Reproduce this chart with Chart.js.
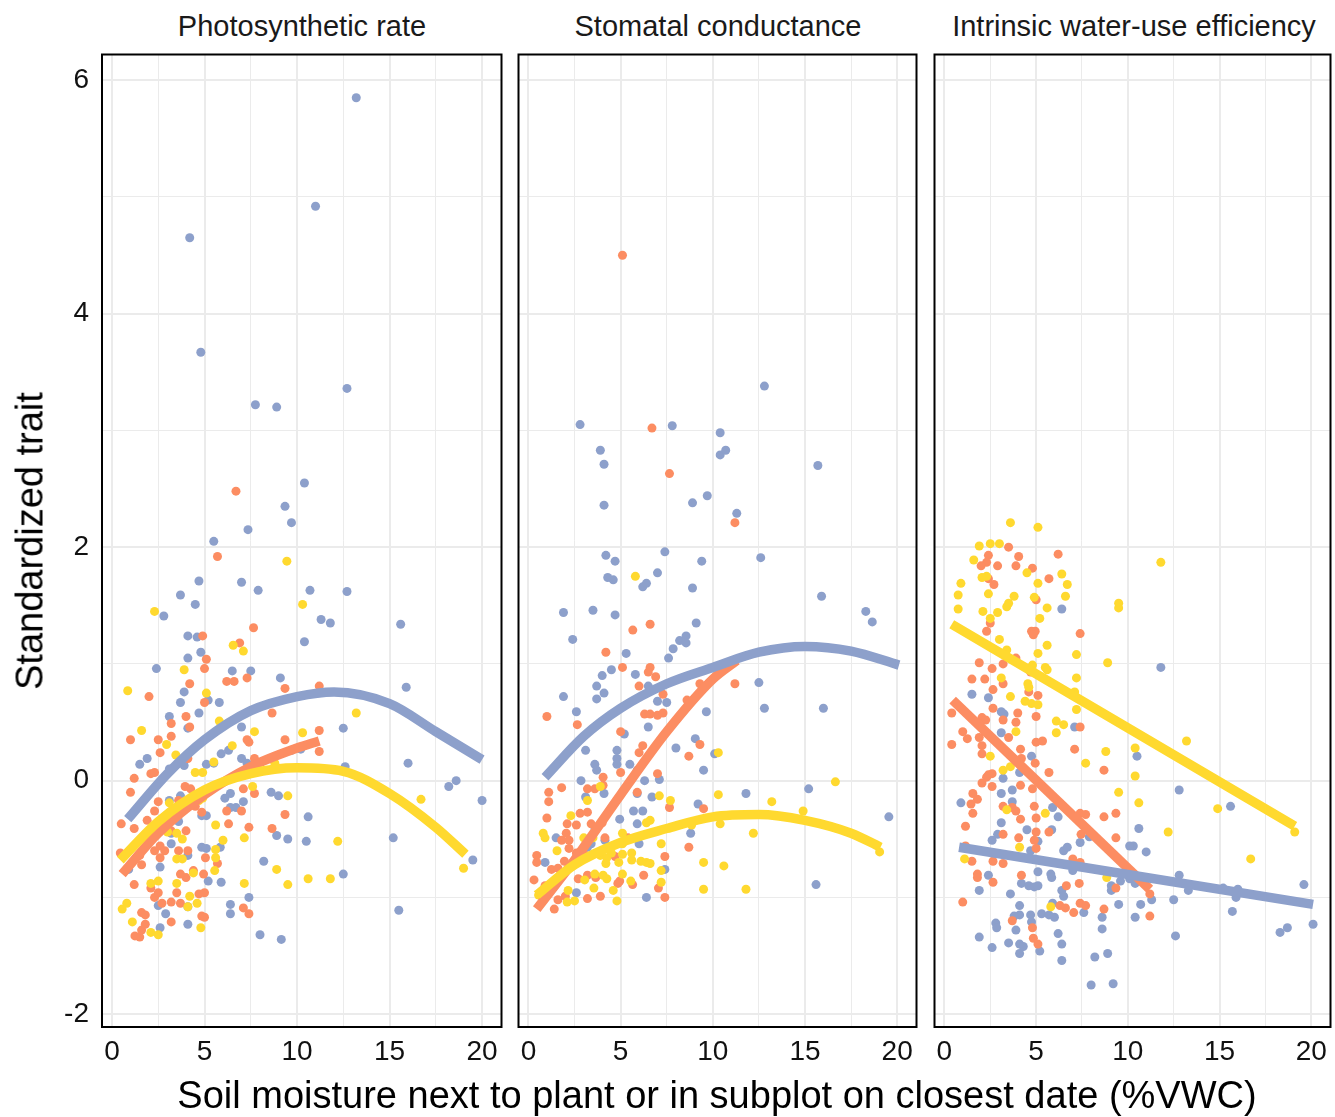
<!DOCTYPE html>
<html>
<head>
<meta charset="utf-8">
<script src="https://cdn.jsdelivr.net/npm/chart.js@4.4.1/dist/chart.umd.min.js"></script>
<style>
  html, body { margin: 0; padding: 0; background: #fff; overflow: hidden; }
  #wrap { position: relative; width: 1335px; height: 1117px; font-family: "Liberation Sans", Arial, sans-serif; }
  canvas { position: absolute; }
  .strip { position: absolute; top: 10px; width: 400px; text-align: center; font-size: 29px; line-height: 32px; color: #1a1a1a; }
  #ylab { position: absolute; left: 30px; top: 541px; transform: translate(-50%, -50%) rotate(-90deg); font-size: 38px; white-space: nowrap; color: #000; }
  #xlab { position: absolute; left: 717px; top: 1095px; transform: translate(-50%, -50%); font-size: 38px; white-space: nowrap; color: #000; }
</style>
</head>
<body>
<div id="wrap">
  <canvas id="c1" width="504" height="1040" style="left:2px;top:50px"></canvas>
  <canvas id="c2" width="407" height="1040" style="left:514px;top:50px"></canvas>
  <canvas id="c3" width="405" height="1040" style="left:930px;top:50px"></canvas>
  <div class="strip" style="left:102px">Photosynthetic rate</div>
  <div class="strip" style="left:518px">Stomatal conductance</div>
  <div class="strip" style="left:934px">Intrinsic water-use efficiency</div>
  <div id="ylab">Standardized trait</div>
  <div id="xlab">Soil moisture next to plant or in subplot on closest date (%VWC)</div>
</div>
<script>
const BLUE = '#8DA0CB';
const ORANGE = '#FC8D62';
const YELLOW = '#FFD92F';

// axis ranges and labelled ticks
const xRange = [-0.54, 21.05];
const yRange = [-2.11, 6.22];
const xTickLabels = [0, 5, 10, 15, 20];
const yTickLabels = [-2, 0, 2, 4, 6];

// ---- Photosynthetic rate: points [x, y]
const photoBlue = [
  [13.2,5.85],[11.0,4.92],[4.2,4.65],[4.8,3.67],[12.7,3.36],[7.75,3.22],[8.9,3.2],[10.4,2.55],[9.35,2.35],[9.7,2.21],
  [7.35,2.15],[5.5,2.05],[4.7,1.71],[7.0,1.7],[7.9,1.63],[3.7,1.59],[2.8,1.41],[4.5,1.51],[10.7,1.63],[12.7,1.62],
  [11.3,1.38],[11.8,1.35],[15.6,1.34],[10.4,1.19],[4.1,1.24],[4.6,1.23],[4.8,1.1],[4.1,1.05],[2.4,0.96],[6.5,0.94],
  [7.5,0.94],[9.1,0.88],[3.9,0.76],[5.2,0.69],[3.7,0.67],[5.8,0.67],[4.7,0.58],[3.1,0.55],[7.0,0.46],[4.1,0.45],
  [15.9,0.8],[12.5,0.45],[10.2,0.27],[12.6,0.12],[16.0,0.15],[18.2,-0.05],[18.6,0.0],[20.0,-0.17],[10.6,-0.31],[10.5,-0.52],
  [15.2,-0.49],[19.5,-0.68],[12.5,-0.8],[15.5,-1.11],[1.9,0.19],[1.5,0.14],[3.1,0.1],[3.9,0.13],[5.1,0.14],[5.5,0.15],
  [5.9,0.23],[6.3,0.26],[7.0,0.19],[7.3,0.15],[9.7,0.26],[8.6,-0.1],[9.0,-0.13],[8.9,-0.47],[9.5,-0.5],[8.2,-0.69],
  [7.4,-1.0],[6.4,-1.06],[6.4,-1.14],[8.0,-1.32],[9.15,-1.36],[6.1,-0.15],[6.4,-0.23],[6.7,-0.23],[7.1,-0.18],[6.4,-0.11],
  [5.85,-0.57],[4.85,-0.57],[5.1,-0.58],[5.2,-0.86],[5.9,-0.87],[2.6,-0.74],[3.2,-0.54],[4.1,-0.64],[2.5,-1.07],[2.9,-1.14],
  [4.1,-1.23],[2.6,-1.26],[4.1,-1.08],[3.1,-0.17],[3.6,-0.35],[3.2,-0.45],[3.7,-0.13],[4.85,-0.3],[5.1,-0.3],[0.9,-0.76]
];
const photoOrange = [
  [6.7,2.48],[5.7,1.92],[7.65,1.31],[4.9,1.24],[6.9,1.18],[5.1,1.04],[5.0,0.96],[6.2,0.85],[6.6,0.85],[7.3,0.88],
  [9.35,0.79],[4.2,0.83],[2.0,0.72],[5.0,0.67],[4.0,0.55],[3.2,0.49],[8.65,0.58],[4.2,0.46],[3.2,0.38],[11.2,0.81],
  [11.2,0.43],[11.2,0.25],[1.0,0.35],[2.5,0.35],[7.3,0.35],[9.35,0.35],[2.6,0.24],[1.2,0.02],[1.0,-0.1],[2.1,0.06],
  [2.3,0.07],[4.1,0.19],[7.4,0.33],[7.7,0.19],[9.35,-0.29],[8.65,-0.41],[7.4,-0.4],[7.1,-1.09],[7.4,-1.14],[6.3,-0.37],
  [6.2,-0.26],[7.0,-0.26],[7.7,-0.11],[7.1,-0.07],[5.7,-0.71],[5.05,-0.66],[4.95,-0.8],[4.4,-0.77],[4.0,-0.83],[3.7,-0.8],
  [3.5,-0.96],[4.7,-0.97],[5.0,-0.96],[3.7,-1.05],[3.2,-1.04],[4.85,-1.16],[5.0,-1.17],[3.2,-1.21],[1.5,-1.34],[1.24,-1.33],
  [1.6,-1.28],[1.8,-1.23],[1.6,-1.13],[1.8,-1.15],[2.3,-1.0],[2.7,-1.05],[1.2,-0.89],[2.1,-0.92],[2.5,-0.96],[1.6,-0.72],
  [2.3,-0.6],[2.6,-0.56],[2.85,-0.6],[3.6,-0.6],[4.1,-0.6],[2.6,-0.66],[0.5,-0.37],[1.2,-0.41],[1.9,-0.34],[2.3,-0.26],
  [2.5,-0.18],[4.0,-0.43],[3.2,-0.43],[1.5,-0.64],[0.45,-0.62],[3.6,-0.17],[3.95,-0.05],[4.25,-0.07],[4.85,-0.27],[4.5,-0.22]
];
const photoYellow = [
  [9.45,1.88],[2.3,1.45],[10.3,1.51],[6.55,1.16],[7.1,1.11],[3.9,0.95],[0.85,0.77],[5.1,0.75],[5.8,0.51],[1.6,0.43],
  [7.7,0.42],[13.2,0.58],[10.3,0.41],[16.7,-0.16],[12.2,-0.52],[19.0,-0.75],[10.6,-0.84],[11.8,-0.84],[2.95,0.31],[3.45,0.22],
  [4.5,0.07],[4.9,0.07],[5.5,0.16],[6.5,0.3],[8.8,0.15],[9.5,-0.13],[7.15,-0.49],[8.9,-0.76],[9.5,-0.89],[7.15,-0.88],
  [5.6,-0.38],[6.0,-0.51],[5.6,-0.59],[5.6,-0.66],[5.55,-0.77],[4.4,-0.79],[3.5,-0.88],[4.2,-0.99],[4.6,-1.05],[4.1,-1.08],
  [4.8,-1.26],[2.5,-1.32],[2.1,-1.3],[1.1,-1.21],[0.55,-1.1],[0.8,-1.05],[2.1,-0.88],[2.5,-0.86],[3.5,-0.67],[3.8,-0.67],
  [3.1,-0.19],[3.8,-0.5],[3.0,-0.44],[3.5,-0.45],[4.7,-0.17],[4.9,-0.15],[7.6,-0.05]
];
// fitted curves [x, y]
const photoBlueFit = [[0.85,-0.33],[3,0.06],[5,0.35],[7.5,0.6],[10,0.72],[12,0.76],[15,0.66],[17.5,0.42],[20,0.18]];
const photoOrangeFit = [[0.55,-0.8],[2.5,-0.45],[5,-0.12],[7.5,0.12],[10,0.28],[11.2,0.34]];
const photoYellowFit = [[0.45,-0.68],[2.5,-0.35],[5,-0.08],[7.5,0.06],[10,0.11],[12.5,0.08],[15,-0.11],[17.5,-0.4],[19.1,-0.63]];

// ---- Stomatal conductance
const stomBlue = [
  [2.8,3.05],[7.8,3.04],[3.9,2.83],[4.1,2.71],[4.1,2.36],[8.9,2.38],[9.7,2.44],[10.4,2.98],[10.4,2.79],[10.7,2.83],
  [12.8,3.38],[15.7,2.7],[11.3,2.29],[12.6,1.91],[15.9,1.58],[18.3,1.45],[18.65,1.36],[4.2,1.93],[4.7,1.88],[4.3,1.74],
  [4.6,1.72],[7.4,1.96],[7.0,1.78],[6.2,1.66],[6.4,1.69],[9.4,1.88],[8.9,1.65],[1.9,1.44],[3.5,1.46],[4.7,1.42],
  [9.1,1.35],[2.4,1.21],[5.3,1.09],[7.6,1.05],[7.85,1.13],[8.2,1.2],[8.55,1.24],[8.55,1.18],[4.5,0.95],[4.0,0.9],
  [5.8,0.91],[12.5,0.84],[12.8,0.62],[16.0,0.62],[11.8,-0.11],[15.2,-0.07],[19.55,-0.31],[15.6,-0.89],[3.7,0.81],[4.1,0.75],
  [3.7,0.7],[1.9,0.72],[6.5,0.81],[7.0,0.68],[7.5,0.67],[9.65,0.59],[2.6,0.59],[6.5,0.46],[5.2,0.4],[8.0,0.28],
  [9.05,0.36],[9.5,0.09],[10.1,0.23],[3.1,0.26],[4.8,0.26],[4.8,0.19],[4.8,0.14],[3.6,0.14],[3.7,0.09],[5.5,0.14],
  [5.9,0.09],[6.3,0.0],[7.1,0.01],[2.85,0.0],[3.1,-0.14],[4.1,-0.11],[5.9,-0.11],[6.7,-0.14],[9.2,-0.2],[4.95,-0.33],
  [5.7,-0.26],[6.2,-0.26],[5.9,-0.37],[1.5,-0.49],[4.15,-0.51],[6.0,-0.54],[8.8,-0.45],[7.4,-0.76],[6.4,-1.0],[2.6,-0.96],
  [0.9,-0.7],[3.2,-0.57],[3.4,-0.54],[3.6,-0.4]
];
const stomOrange = [
  [5.1,4.5],[6.7,3.02],[7.65,2.63],[11.2,2.21],[5.66,1.29],[6.6,1.34],[4.2,1.1],[5.1,0.97],[6.6,0.97],[6.9,0.89],
  [11.2,0.83],[6.5,0.93],[6.0,0.81],[7.3,0.74],[9.3,0.83],[8.6,0.69],[1.0,0.55],[2.65,0.48],[6.3,0.57],[6.6,0.57],
  [7.0,0.56],[7.3,0.58],[5.0,0.42],[9.3,0.31],[8.7,0.21],[6.2,0.3],[6.0,0.24],[5.0,0.07],[4.05,0.03],[4.05,-0.04],
  [7.0,0.06],[1.8,-0.06],[1.1,-0.1],[1.1,-0.18],[3.2,-0.07],[3.6,-0.07],[7.65,-0.23],[9.5,-0.24],[1.0,-0.32],[2.8,-0.28],
  [3.2,-0.27],[2.1,-0.37],[2.6,-0.38],[2.05,-0.45],[1.8,-0.51],[3.4,-0.37],[4.0,-0.36],[4.15,-0.49],[5.4,-0.49],[8.7,-0.57],
  [7.4,-0.65],[7.05,-0.92],[7.4,-1.0],[6.25,-0.81],[5.65,-0.89],[4.95,-0.86],[4.85,-0.88],[3.9,-0.99],[3.2,-1.01],[2.0,-0.99],
  [1.6,-1.02],[2.7,-0.84],[3.2,-0.81],[3.65,-0.83],[4.7,-0.65],[0.45,-0.64],[0.45,-0.7],[1.25,-0.76],[1.6,-0.75],[1.95,-0.69],
  [2.2,-0.58],[2.6,-0.62],[3.1,-0.64],[2.2,-0.51],[0.9,-0.9],[1.4,-1.1],[0.3,-0.85],[5.9,-0.1]
];
const stomYellow = [
  [5.8,1.75],[10.3,0.24],[10.3,-0.12],[16.65,-0.01],[13.2,-0.18],[14.9,-0.26],[10.4,-0.37],[12.2,-0.45],[10.6,-0.73],[11.8,-0.93],
  [19.05,-0.61],[3.9,-0.05],[3.2,-0.17],[7.1,-0.13],[7.7,-0.17],[2.3,-0.3],[6.4,-0.36],[6.6,-0.34],[0.8,-0.45],[0.9,-0.49],
  [5.1,-0.45],[5.1,-0.54],[7.2,-0.54],[8.85,-0.38],[9.5,-0.7],[9.5,-0.93],[7.2,-0.77],[7.2,-0.87],[5.6,-0.68],[6.1,-0.69],
  [6.4,-0.7],[6.6,-0.71],[5.55,-0.86],[5.1,-0.8],[4.8,-1.03],[4.6,-0.94],[2.1,-1.04],[2.5,-1.03],[2.15,-0.94],[0.55,-0.98],
  [3.05,-0.85],[3.55,-0.92],[3.6,-0.8],[4.05,-0.81],[4.25,-0.84],[3.9,-0.64],[4.25,-0.66],[4.5,-0.62],[5.1,-0.63],[5.6,-0.62],
  [4.2,-0.71],[4.9,-0.7],[1.55,-0.6],[3.0,-0.49],[3.5,-0.49]
];
const stomBlueFit = [[0.9,0.03],[3,0.38],[5,0.62],[7.5,0.83],[10,0.97],[12.5,1.1],[15,1.15],[17.5,1.11],[20.1,0.99]];
const stomOrangeFit = [[0.45,-1.1],[2.5,-0.68],[5,-0.12],[7.5,0.42],[10,0.87],[11.3,1.03]];
const stomYellowFit = [[0.45,-0.98],[2.5,-0.72],[5,-0.53],[7.5,-0.41],[10,-0.31],[12.5,-0.29],[15,-0.34],[17.5,-0.45],[19.1,-0.57]];

// ---- Intrinsic water-use efficiency
const wueBlue = [
  [6.4,1.47],[1.5,0.74],[2.4,0.71],[3.1,0.59],[3.25,0.57],[7.1,0.46],[3.1,0.41],[4.75,0.21],[4.1,0.07],[11.8,0.97],
  [10.5,0.21],[12.8,-0.08],[15.6,-0.22],[10.6,-0.41],[10.3,-0.56],[11.0,-0.61],[10.4,-0.88],[12.8,-0.81],[13.3,-0.94],[15.2,-0.92],
  [16.0,-0.93],[15.9,-1.0],[19.6,-0.89],[11.3,-1.02],[12.5,-1.02],[10.7,-1.06],[10.4,-1.17],[15.7,-1.12],[12.6,-1.33],[18.3,-1.3],
  [18.7,-1.26],[20.1,-1.23],[3.2,0.02],[3.7,-0.08],[3.1,-0.11],[3.7,-0.18],[0.9,-0.19],[5.9,-0.23],[6.2,-0.31],[3.1,-0.36],
  [4.5,-0.42],[5.85,-0.42],[2.6,-0.51],[2.9,-0.46],[7.4,-0.53],[7.9,-0.48],[5.1,-0.52],[6.5,-0.6],[6.7,-0.57],[10.1,-0.56],
  [4.7,-0.6],[7.0,-0.77],[5.1,-0.78],[5.8,-0.8],[5.85,-0.83],[2.4,-0.81],[4.2,-0.88],[4.6,-0.9],[4.9,-0.91],[5.1,-0.9],
  [6.4,-0.94],[6.5,-0.99],[1.9,-0.94],[3.6,-0.97],[9.1,-0.9],[9.1,-0.94],[9.6,-0.86],[10.1,-0.84],[5.9,-1.05],[7.6,-1.13],
  [9.5,-1.06],[4.1,-1.07],[4.1,-1.15],[3.8,-1.16],[4.7,-1.15],[4.75,-1.21],[5.3,-1.14],[5.7,-1.15],[6.0,-1.17],[2.8,-1.22],
  [2.85,-1.26],[3.9,-1.28],[8.6,-1.17],[8.6,-1.27],[6.2,-1.31],[1.9,-1.34],[2.6,-1.43],[3.5,-1.39],[4.1,-1.4],[4.3,-1.42],
  [4.1,-1.48],[5.2,-1.46],[6.4,-1.4],[6.4,-1.54],[8.2,-1.51],[8.9,-1.48],[8.0,-1.75],[9.2,-1.74]
];
const wueOrange = [
  [3.5,2.0],[2.4,1.93],[2.3,1.87],[2.0,1.84],[2.9,1.84],[4.05,1.92],[3.9,1.84],[6.2,1.94],[4.8,1.82],[5.7,1.73],
  [2.4,1.73],[2.7,1.68],[5.0,1.55],[2.5,1.35],[2.3,1.28],[4.75,1.28],[4.95,1.28],[4.85,1.25],[7.4,1.26],[3.9,1.05],
  [1.9,1.01],[2.6,0.96],[3.2,1.0],[4.7,0.93],[1.5,0.87],[2.2,0.87],[3.2,0.83],[2.65,0.78],[4.6,0.76],[5.1,0.73],
  [2.65,0.62],[0.4,0.58],[4.0,0.58],[5.0,0.55],[2.05,0.54],[2.25,0.52],[3.2,0.52],[3.9,0.5],[7.4,0.46],[1.0,0.42],
  [1.25,0.36],[0.4,0.31],[1.9,0.37],[2.05,0.3],[3.5,0.37],[5.0,0.33],[5.35,0.34],[4.15,0.27],[7.1,0.27],[2.05,0.23],
  [4.2,0.19],[4.95,0.15],[5.7,0.07],[8.7,0.09],[2.4,0.05],[2.6,0.06],[2.05,-0.02],[2.3,0.03],[2.6,-0.05],[4.15,-0.04],
  [4.8,-0.07],[1.55,-0.11],[1.8,-0.16],[1.45,-0.2],[1.55,-0.28],[3.2,-0.22],[3.7,-0.23],[3.9,-0.26],[4.15,-0.33],[4.9,-0.22],
  [5.0,-0.32],[7.4,-0.28],[7.7,-0.29],[8.7,-0.31],[9.35,-0.28],[1.15,-0.39],[5.7,-0.44],[5.0,-0.44],[3.2,-0.46],[4.05,-0.49],
  [7.45,-0.46],[9.35,-0.49],[4.9,-0.51],[5.0,-0.58],[1.15,-0.56],[1.5,-0.69],[2.65,-0.69],[3.2,-0.71],[7.0,-0.67],[7.4,-0.7],
  [1.8,-0.8],[1.8,-0.83],[2.65,-0.87],[4.2,-0.81],[6.65,-0.9],[7.35,-0.88],[9.35,-0.92],[1.0,-1.04],[6.3,-1.07],[6.6,-1.09],
  [7.05,-1.13],[7.4,-1.05],[7.7,-1.07],[8.7,-1.1],[3.7,-1.2],[4.8,-1.26],[4.85,-1.35],[5.1,-1.4],[11.2,-0.97],[11.2,-1.16]
];
const wueYellow = [
  [3.6,2.21],[5.1,2.17],[1.9,2.01],[2.5,2.03],[3.0,2.03],[1.6,1.89],[4.5,1.78],[6.4,1.77],[2.05,1.74],[2.3,1.75],
  [0.9,1.69],[5.1,1.69],[6.7,1.68],[0.75,1.59],[2.4,1.6],[3.8,1.58],[4.9,1.57],[6.6,1.58],[3.5,1.52],[3.4,1.49],
  [5.6,1.48],[9.5,1.52],[9.5,1.48],[0.75,1.47],[2.1,1.45],[2.9,1.44],[2.5,1.39],[5.2,1.39],[3.0,1.21],[5.6,1.16],
  [3.4,1.12],[5.1,1.09],[7.2,1.08],[4.8,0.99],[5.5,0.97],[5.6,0.95],[8.9,1.01],[3.1,0.88],[4.55,0.83],[4.6,0.8],
  [7.2,0.88],[3.6,0.72],[7.1,0.76],[4.4,0.68],[4.75,0.66],[5.1,0.65],[7.2,0.61],[6.1,0.51],[6.5,0.48],[6.1,0.41],
  [3.9,0.42],[8.8,0.25],[2.5,0.21],[7.7,0.15],[3.6,0.12],[3.2,0.09],[11.8,1.87],[13.2,0.34],[10.4,0.28],[10.4,0.04],
  [10.6,-0.19],[14.9,-0.24],[12.2,-0.44],[16.7,-0.67],[19.1,-0.44],[3.4,-0.25],[5.5,-0.28],[9.5,-0.1],[4.1,-0.57],[1.1,-0.67],
  [8.85,-0.83],[5.8,-1.08]
];
const wueBlueFit = [[0.8,-0.57],[20.1,-1.06]];
const wueOrangeFit = [[0.45,0.69],[11.2,-0.93]];
const wueYellowFit = [[0.4,1.34],[19.1,-0.39]];

const xy = arr => arr.map(([x, y]) => ({ x, y }));

// black box round each panel
const frame = {
  id: 'frame',
  afterDraw(chart) {
    const { ctx, chartArea: a } = chart;
    ctx.save();
    ctx.strokeStyle = '#000';
    ctx.lineWidth = 2;
    ctx.strokeRect(a.left, a.top, a.right - a.left, a.bottom - a.top);
    ctx.restore();
  }
};

function pointSet(data, color, order) {
  return { type: 'scatter', data: xy(data), backgroundColor: color, borderWidth: 0,
           pointRadius: 4.5, pointHoverRadius: 4.5, order };
}
function fitLine(data, color, order) {
  return { type: 'line', data: xy(data), borderColor: color, borderWidth: 9.5, borderCapStyle: 'butt',
           pointRadius: 0, fill: false, cubicInterpolationMode: 'monotone', order };
}

// stop Chart.js from padding the plot area for overhanging tick labels
function fixSize(s, w, h) {
  if (w !== null) s.width = w;
  if (h !== null) s.height = h;
  s.paddingLeft = 0; s.paddingRight = 0; s.paddingTop = 0; s.paddingBottom = 0;
}

function makePanel(id, pts, fits, showY, pad) {
  const gridW = (major) => (c) => (c.tick && major.includes(c.tick.value) ? 2 : 1);
  new Chart(document.getElementById(id), {
    data: {
      datasets: [
        fitLine(fits[2], YELLOW, 0),
        fitLine(fits[0], BLUE, 1),
        fitLine(fits[1], ORANGE, 2),
        pointSet(pts[2], YELLOW, 10),
        pointSet(pts[1], ORANGE, 11),
        pointSet(pts[0], BLUE, 12)
      ]
    },
    options: {
      responsive: false,
      animation: false,
      events: [],
      layout: { padding: { top: 4, right: pad.right, left: pad.left, bottom: 0 } },
      plugins: { legend: { display: false }, tooltip: { enabled: false } },
      scales: {
        x: {
          type: 'linear', min: xRange[0], max: xRange[1],
          border: { display: false },
          grid: { color: '#ebebeb', lineWidth: gridW(xTickLabels), drawTicks: false },
          ticks: {
            stepSize: 2.5, includeBounds: false, autoSkip: false, maxRotation: 0, padding: 8,
            color: '#111', font: { family: '"Liberation Sans", Arial, sans-serif', size: 28 },
            callback: v => (xTickLabels.includes(v) ? String(v) : '')
          },
          afterFit: s => fixSize(s, null, 63)
        },
        y: {
          type: 'linear', min: yRange[0], max: yRange[1],
          border: { display: false },
          grid: { color: '#ebebeb', lineWidth: gridW(yTickLabels), drawTicks: false },
          ticks: {
            display: showY, stepSize: 1, includeBounds: false, autoSkip: false, padding: 13,
            color: '#111', font: { family: '"Liberation Sans", Arial, sans-serif', size: 28 },
            callback: v => (yTickLabels.includes(v) ? String(v) : '')
          },
          afterFit: s => fixSize(s, showY ? 100 : 0, null)
        }
      }
    },
    plugins: [frame]
  });
}

makePanel('c1', [photoBlue, photoOrange, photoYellow], [photoBlueFit, photoOrangeFit, photoYellowFit], true, { left: 0, right: 4 });
makePanel('c2', [stomBlue, stomOrange, stomYellow], [stomBlueFit, stomOrangeFit, stomYellowFit], false, { left: 4, right: 4 });
makePanel('c3', [wueBlue, wueOrange, wueYellow], [wueBlueFit, wueOrangeFit, wueYellowFit], false, { left: 4, right: 2 });
</script>
</body>
</html>
